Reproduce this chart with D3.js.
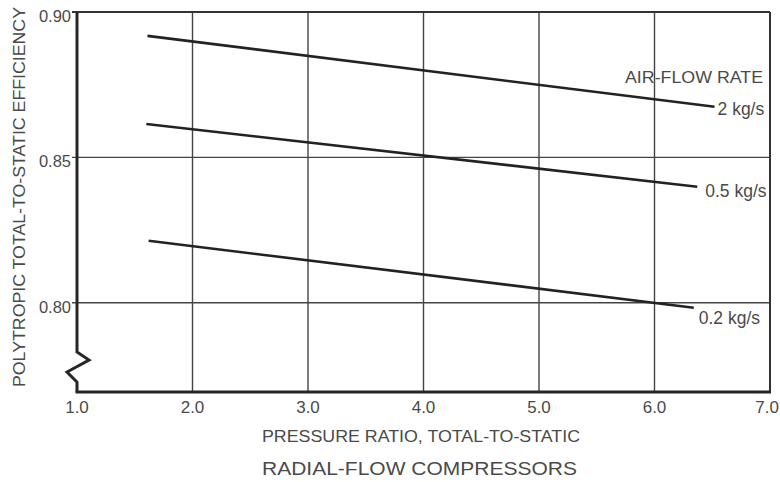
<!DOCTYPE html>
<html>
<head>
<meta charset="utf-8">
<script src="https://cdn.jsdelivr.net/npm/d3@7"></script>
<style>
  body { margin: 0; background: #fff; }
  svg { display: block; }
  text { font-family: "Liberation Sans", Arial, sans-serif; fill: #4a4a4a; }
</style>
</head>
<body>
<script>
// Données
const xTicks = [1, 2, 3, 4, 5, 6, 7];
const yTicks = [0.80, 0.85, 0.90];
const flowRates = ["2 kg/s", "0.5 kg/s", "0.2 kg/s"];
const pressureStart = [1.61, 1.60, 1.62];
const pressureEnd = [6.52, 6.37, 6.34];
const effStart = [0.8918, 0.8615, 0.8213];
const effEnd = [0.8674, 0.8399, 0.7983];

const width = 780, height = 482;

const svg = d3.select("body").append("svg")
    .attr("width", width)
    .attr("height", height);

// Echelles (axe vertical coupé en bas, vers 0.77)
const x = d3.scaleLinear().domain([1, 7]).range([77, 770]);
const y = d3.scaleLinear().domain([0.7693, 0.90]).range([392, 12]);

// Grille verticale
svg.selectAll(".vgrid")
    .data(xTicks.slice(1, -1))
    .enter()
    .append("line")
    .attr("class", "vgrid")
    .attr("x1", d => x(d)).attr("x2", d => x(d))
    .attr("y1", y(0.90)).attr("y2", y.range()[0])
    .style("stroke", "#444")
    .style("stroke-width", 1.4);

// Grille horizontale
svg.selectAll(".hgrid")
    .data(yTicks.slice(0, -1))
    .enter()
    .append("line")
    .attr("class", "hgrid")
    .attr("x1", x(1) - 5).attr("x2", x(7))
    .attr("y1", d => y(d)).attr("y2", d => y(d))
    .style("stroke", "#444")
    .style("stroke-width", 1.4);

// Cadre haut et droit
svg.append("line")
    .attr("x1", x(1) - 5).attr("x2", x(7))
    .attr("y1", y(0.90)).attr("y2", y(0.90))
    .style("stroke", "#333").style("stroke-width", 2);
svg.append("line")
    .attr("x1", x(7)).attr("x2", x(7))
    .attr("y1", y(0.90)).attr("y2", y.range()[0])
    .style("stroke", "#333").style("stroke-width", 2);

// Axe gauche avec la coupure en zigzag
const ax = x(1), bottom = y.range()[0];
const zigzag = [
    [ax, y(0.90)], [ax, 352], [ax + 12, 360], [ax - 10, 372], [ax, 382], [ax, bottom]
];
svg.append("path")
    .attr("d", d3.line()(zigzag))
    .style("fill", "none")
    .style("stroke", "#262626")
    .style("stroke-width", 3)
    .style("stroke-linejoin", "miter");

// Axe bas
svg.append("line")
    .attr("x1", ax - 1.5).attr("x2", x(7) + 1)
    .attr("y1", bottom).attr("y2", bottom)
    .style("stroke", "#262626").style("stroke-width", 3);

// Etiquettes des graduations
svg.selectAll(".ylabel")
    .data(yTicks)
    .enter()
    .append("text")
    .attr("class", "ylabel")
    .attr("x", ax - 6)
    .attr("y", d => y(d) + 10)
    .attr("text-anchor", "end")
    .style("font-size", "16.5px")
    .text(d => d.toFixed(2));

// le dernier libellé touche le bord droit : on l'aligne à droite
svg.selectAll(".xlabel")
    .data(xTicks)
    .enter()
    .append("text")
    .attr("class", "xlabel")
    .attr("x", (d, i) => i === xTicks.length - 1 ? width - 1 : x(d))
    .attr("y", 413)
    .attr("text-anchor", (d, i) => i === xTicks.length - 1 ? "end" : "middle")
    .style("font-size", "17px")
    .text(d => d.toFixed(1));

// Courbes de rendement
const curves = flowRates.map((name, i) => ({
    name: name,
    pts: [[pressureStart[i], effStart[i]], [pressureEnd[i], effEnd[i]]]
}));

const line = d3.line().x(d => x(d[0])).y(d => y(d[1]));

svg.selectAll(".curve")
    .data(curves)
    .enter()
    .append("path")
    .attr("class", "curve")
    .attr("d", d => line(d.pts))
    .style("fill", "none")
    .style("stroke", "#222")
    .style("stroke-width", 2.6);

// Libellés des courbes
const labelOffsets = [[3, 8], [8, 10], [5, 16]];
svg.selectAll(".clabel")
    .data(curves)
    .enter()
    .append("text")
    .attr("class", "clabel")
    .attr("x", (d, i) => x(d.pts[1][0]) + labelOffsets[i][0])
    .attr("y", (d, i) => y(d.pts[1][1]) + labelOffsets[i][1])
    .style("font-size", "17.5px")
    .text(d => d.name);

svg.append("text")
    .attr("x", 625)
    .attr("y", 83)
    .style("font-size", "16px")
    .attr("textLength", 138)
    .attr("lengthAdjust", "spacingAndGlyphs")
    .text("AIR-FLOW RATE");

// Titres
svg.append("text")
    .attr("transform", "translate(25,197) rotate(-90)")
    .attr("text-anchor", "middle")
    .style("font-size", "16px")
    .attr("textLength", 380)
    .attr("lengthAdjust", "spacingAndGlyphs")
    .text("POLYTROPIC TOTAL-TO-STATIC EFFICIENCY");

svg.append("text")
    .attr("x", 262)
    .attr("y", 442)
    .style("font-size", "16px")
    .attr("textLength", 318)
    .attr("lengthAdjust", "spacingAndGlyphs")
    .text("PRESSURE RATIO, TOTAL-TO-STATIC");

svg.append("text")
    .attr("x", 262)
    .attr("y", 475)
    .style("font-size", "18.5px")
    .attr("textLength", 315)
    .attr("lengthAdjust", "spacingAndGlyphs")
    .text("RADIAL-FLOW COMPRESSORS");
</script>
</body>
</html>
